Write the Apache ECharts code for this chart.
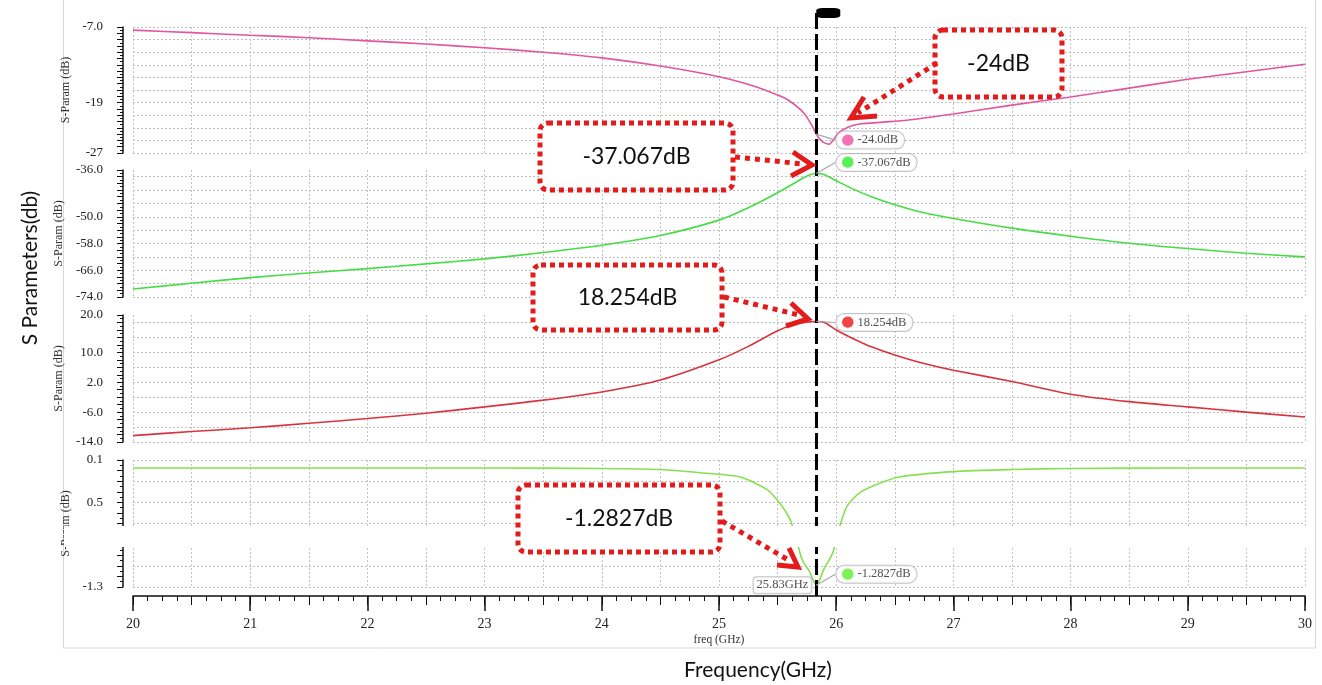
<!DOCTYPE html>
<html><head><meta charset="utf-8">
<script src="https://cdn.jsdelivr.net/npm/echarts@6/dist/echarts.min.js"></script>
<style>html,body{margin:0;padding:0;background:#fff}#c{width:1322px;height:685px}</style>
</head><body><div id="c"></div>
<script>
// ---------- data ----------
const s11Freq = [20.0,20.5,21.0,21.5,22.0,22.5,23.0,23.5,24.0,24.5,25.0,25.3,25.5,25.6,25.7,25.75,25.8,25.83,25.86,25.9,25.94,25.98,26.02,26.1,26.2,26.4,26.6,27.0,27.5,28.0,28.5,29.0,29.5,30.0];
const s11Values = [-7.5,-7.9,-8.3,-8.7,-9.2,-9.7,-10.3,-11.0,-11.9,-13.2,-14.9,-16.4,-17.8,-18.7,-20.2,-21.3,-22.9,-24.0,-24.8,-25.4,-25.6,-24.8,-23.8,-22.9,-22.4,-22.1,-21.8,-20.8,-19.4,-18.1,-16.7,-15.3,-14.1,-12.9];

const isoFreq = [20.0,20.5,21.0,21.5,22.0,22.5,23.0,23.5,24.0,24.5,25.0,25.25,25.5,25.65,25.75,25.83,25.9,26.0,26.15,26.3,26.5,26.75,27.0,27.5,28.0,28.5,29.0,29.5,30.0];
const isoValues = [-71.6,-69.9,-68.2,-66.8,-65.5,-64.1,-62.6,-60.7,-58.5,-55.6,-51.0,-47.3,-42.8,-39.8,-37.8,-37.067,-37.4,-39.2,-41.8,-44.0,-46.4,-48.8,-50.5,-53.4,-55.8,-57.9,-59.5,-60.9,-62.0];

const gainFreq = [20.0,20.5,21.0,21.5,22.0,22.5,23.0,23.5,24.0,24.5,25.0,25.25,25.5,25.65,25.75,25.83,25.9,26.0,26.15,26.3,26.5,26.75,27.0,27.5,28.0,28.5,29.0,29.5,30.0];
const gainValues = [-12.3,-11.2,-10.2,-9.0,-7.7,-6.3,-4.6,-2.8,-0.6,2.6,8.0,11.6,15.8,17.6,18.1,18.254,18.0,16.0,13.6,11.5,9.3,7.0,5.2,2.2,-1.2,-3.2,-4.6,-6.0,-7.3];

const retFreq = [20.0,21.0,22.0,23.0,24.0,24.5,24.84,25.18,25.41,25.52,25.61,25.71,25.77,25.83,25.9,25.97,26.03,26.09,26.2,26.37,26.54,27.0,27.5,28.0,29.0,30.0];
const retValues = [-0.175,-0.175,-0.175,-0.175,-0.18,-0.19,-0.22,-0.26,-0.38,-0.51,-0.67,-1.045,-1.15,-1.2827,-1.12,-0.98,-0.73,-0.54,-0.41,-0.32,-0.26,-0.21,-0.19,-0.18,-0.175,-0.175];

const markerFreq = 25.83;
const markerValues = [-24.0, -37.067, 18.254, -1.2827];
const markerTexts = ['-24.0dB', '-37.067dB', '18.254dB', '-1.2827dB'];
const markerFreqText = '25.83GHz';

const xTickValues = [20,21,22,23,24,25,26,27,28,29,30];
const p1TickValues = [-7, -19, -27];          const p1TickTexts = ['-7.0', '-19', '-27'];
const p2TickValues = [-36, -50, -58, -66, -74]; const p2TickTexts = ['-36.0', '-50.0', '-58.0', '-66.0', '-74.0'];
const p3TickValues = [20, 10, 2, -6, -14];     const p3TickTexts = ['20.0', '10.0', '2.0', '-6.0', '-14.0'];
const p4TickValues = [-0.1, -0.5, -1.3];       const p4TickTexts = ['0.1', '0.5', '-1.3'];

const annotTexts = ['-24dB', '-37.067dB', '18.254dB', '-1.2827dB'];

// ---------- styles ----------
const SERIF = 'Liberation Serif';
const SANS = 'Lato';
const colS11 = '#e2559f', colIso = '#45dd45', colGain = '#d9343e', colRet = '#86e050';
const dotCols = ['#f24ea3', '#2fee2f', '#ee1515', '#5cef2a'];

const L = 133, R = 17;
const panels = [
  {top: 27, height: 126}, {top: 170, height: 127}, {top: 315, height: 127}, {top: 460, height: 127}
];

function lookupFmt(vals, texts) {
  return function (v) {
    for (let i = 0; i < vals.length; i++) if (Math.abs(v - vals[i]) < 1e-6) return texts[i];
    return '';
  };
}

function yAx(gi, min, max, interval, vals, texts, minorSplit) {
  return {
    gridIndex: gi, type: 'value', min: min, max: max, interval: interval,
    position: 'left', offset: 10,
    name: 'S-Param (dB)', nameLocation: 'middle', nameGap: 44, nameRotate: 90,
    nameTextStyle: {fontFamily: SERIF, fontSize: 12, color: '#333'},
    axisLine: {show: true, onZero: false, lineStyle: {color: '#111', width: 1.5}},
    axisTick: {show: true, length: 6, lineStyle: {color: '#111'}},
    minorTick: {show: true, splitNumber: minorSplit, length: 3, lineStyle: {color: '#111'}},
    axisLabel: {margin: 20, fontFamily: SERIF, fontSize: 13, color: '#222', formatter: lookupFmt(vals, texts)},
    splitLine: {show: true, lineStyle: {type: [2, 2], width: 1, color: ['#bdbdbd', 'rgba(0,0,0,0)']}}
  };
}

const grids = panels.map(p => ({left: L, right: R, top: p.top, height: p.height}));
grids.push({left: L, right: R, top: 8, height: 588}); // overlay for marker line

const xAxes = [];
for (let i = 0; i < 4; i++) {
  xAxes.push({
    gridIndex: i, type: 'value', min: 20, max: 30, interval: 0.5,
    axisLine: {show: i === 3, onZero: false, lineStyle: {color: '#111', width: 1.5}},
    offset: i === 3 ? 9 : 0,
    axisTick: {show: i === 3, length: 9, lineStyle: {color: '#111'}},
    minorTick: {show: i === 3, splitNumber: 4, length: 5, lineStyle: {color: '#111'}},
    axisLabel: {show: i === 3, margin: 21, fontFamily: SERIF, fontSize: 14, color: '#222',
      formatter: v => xTickValues.indexOf(Math.round(v * 1000) / 1000) >= 0 ? String(Math.round(v)) : ''},
    name: i === 3 ? 'freq (GHz)' : '', nameLocation: 'middle', nameGap: 38,
    nameTextStyle: {fontFamily: SERIF, fontSize: 11.5, color: '#333'},
    splitLine: {show: true, lineStyle: {type: [2, 2], color: '#c4c4c4'}}
  });
}
// long integer ticks for the bottom axis
xAxes.push({
  gridIndex: 3, type: 'value', min: 20, max: 30, interval: 1, offset: 9, position: 'bottom',
  axisLine: {show: false, onZero: false}, axisTick: {show: true, length: 15, lineStyle: {color: '#111', width: 1.5}},
  axisLabel: {show: false}, splitLine: {show: false}
});
// overlay x axis
xAxes.push({gridIndex: 4, type: 'value', min: 20, max: 30, show: false});

const yAxes = [
  yAx(0, -27, -7, 1, p1TickValues, p1TickTexts, 2),
  yAx(1, -74, -36, 2, p2TickValues, p2TickTexts, 2),
  yAx(2, -14, 20, 2, p3TickValues, p3TickTexts, 2),
  yAx(3, -1.3, -0.1, 0.1, p4TickValues, p4TickTexts, 2),
  {gridIndex: 4, type: 'value', min: 0, max: 1, show: false}
];

function pairs(xs, ys) { return xs.map((x, i) => [x, ys[i]]); }
function curve(xi, yi, xs, ys, col) {
  return {type: 'line', xAxisIndex: xi, yAxisIndex: yi, data: pairs(xs, ys), showSymbol: false, symbol: 'none',
    smooth: 0.25, clip: true, silent: true, z: 3,
    lineStyle: {color: col, width: 1.6}};
}
function markerLabel(xi, yi, k, dy) {
  return {
    type: 'scatter', xAxisIndex: xi, yAxisIndex: yi, data: [[markerFreq, markerValues[k]]],
    symbolSize: 0, silent: true, z: 12,
    label: {show: true, position: 'right', distance: 20,
      formatter: '{d|\u25CF}{t| ' + markerTexts[k] + '}',
      backgroundColor: '#fff', borderColor: '#b4b4b4', borderWidth: 1, borderRadius: 8, padding: [1, 6, 1, 5],
      rich: {d: {color: dotCols[k], fontSize: 15, fontFamily: 'DejaVu Sans'},
             t: {fontFamily: SERIF, fontSize: 12.5, color: '#222'}}},
    labelLayout: {dy: dy},
    labelLine: {show: true, lineStyle: {color: '#a8a8a8', width: 1.2}}
  };
}

const series = [
  curve(0, 0, s11Freq, s11Values, colS11),
  curve(1, 1, isoFreq, isoValues, colIso),
  curve(2, 2, gainFreq, gainValues, colGain),
  curve(3, 3, retFreq, retValues, colRet),
  {
    type: 'line', xAxisIndex: 5, yAxisIndex: 4, data: [[markerFreq, 0]], showSymbol: false, symbol: 'none',
    lineStyle: {width: 0}, silent: true, z: 10,
    markLine: {symbol: ['none', 'none'], silent: true, label: {show: false},
      lineStyle: {color: '#000', width: 3, type: [16, 5]}, data: [{xAxis: markerFreq}]},
    markPoint: {symbol: 'roundRect', symbolSize: [24, 10], symbolOffset: [12, 5], silent: true,
      itemStyle: {color: '#000'}, label: {show: false}, data: [{coord: [markerFreq, 1]}]}
  },
  markerLabel(0, 0, 0, 6),
  markerLabel(1, 1, 1, -11),
  markerLabel(2, 2, 2, 1),
  markerLabel(3, 3, 3, -11),
  {
    type: 'scatter', xAxisIndex: 3, yAxisIndex: 3, data: [[markerFreq, markerValues[3]]],
    symbolSize: 0, silent: true, z: 12,
    label: {show: true, position: 'left', distance: 5, formatter: markerFreqText,
      backgroundColor: '#fff', borderColor: '#b4b4b4', borderWidth: 1, borderRadius: 3, padding: [2, 3, 1, 3],
      fontFamily: SERIF, fontSize: 12.5, color: '#222'}
  }
];

// ---------- annotation layer ----------
const RED = '#e41b1b';
const boxes = [
  {x: 935, y: 30, w: 127, h: 67}, {x: 540, y: 123, w: 193, h: 67},
  {x: 533, y: 265, w: 189, h: 65}, {x: 518, y: 485, w: 202, h: 67}
];
const arrows = [
  {b: [[937, 63], [858, 113]], h: [[864, 97], [851, 118], [877, 116]]},
  {b: [[735, 157], [803, 164]], h: [[793, 152], [812, 165], [791, 176]]},
  {b: [[724, 297], [799, 315]], h: [[791, 303], [808, 319], [786, 326]]},
  {b: [[722, 521], [790, 561]], h: [[789, 548], [798, 567], [777, 565]]}
];
const graphics = [
  {type: 'rect', z: 0, silent: true, shape: {x: 63.5, y: -2, width: 1252, height: 650},
    style: {fill: 'none', stroke: '#cfd8dc', lineWidth: 1}},
  {type: 'rect', z: 50, silent: true, shape: {x: 64, y: 526, width: 1250, height: 21},
    style: {fill: '#fff'}},
  {type: 'text', z: 60, x: 30, y: 268, rotation: Math.PI / 2, silent: true,
    style: {text: 'S Parameters(db)', fontFamily: SANS, fontSize: 21, fill: '#111', textAlign: 'center', textVerticalAlign: 'middle'}},
  {type: 'text', z: 60, x: 758, y: 670, silent: true,
    style: {text: 'Frequency(GHz)', fontFamily: SANS, fontSize: 21, fill: '#111', textAlign: 'center', textVerticalAlign: 'middle'}}
];
boxes.forEach((b, i) => {
  graphics.push({type: 'rect', z: 70, silent: true, shape: {x: b.x, y: b.y, width: b.w, height: b.h, r: 8},
    style: {fill: '#fff', stroke: RED, lineWidth: 5, lineDash: [5, 4]}});
  graphics.push({type: 'text', z: 71, silent: true, x: b.x + b.w / 2, y: b.y + b.h / 2,
    style: {text: annotTexts[i], fontFamily: SANS, fontSize: 23, fill: '#111', textAlign: 'center', textVerticalAlign: 'middle'}});
});
arrows.forEach(a => {
  graphics.push({type: 'polyline', z: 70, silent: true, shape: {points: a.b},
    style: {stroke: RED, lineWidth: 5, lineDash: [5, 5], fill: 'none'}});
  graphics.push({type: 'polyline', z: 70, silent: true, shape: {points: a.h},
    style: {stroke: RED, lineWidth: 5, fill: 'none', lineJoin: 'miter'}});
});

const chart = echarts.init(document.getElementById('c'), null, {renderer: 'canvas'});
chart.setOption({
  animation: false,
  backgroundColor: '#fff',
  grid: grids,
  xAxis: xAxes,
  yAxis: yAxes,
  series: series,
  graphic: {elements: graphics}
});
</script></body></html>
